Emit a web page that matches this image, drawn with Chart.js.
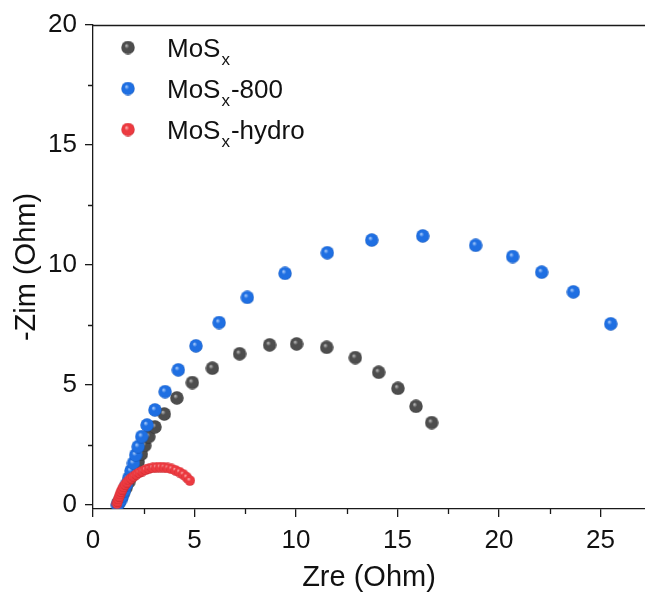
<!DOCTYPE html>
<html>
<head>
<meta charset="utf-8">
<script src="https://cdn.jsdelivr.net/npm/chart.js@4/dist/chart.umd.min.js"></script>
<style>
  html, body { margin: 0; padding: 0; background: #ffffff; overflow: hidden; }
  #wrap { width: 645px; height: 603px; overflow: hidden; }
</style>
</head>
<body>
<div id="wrap"><canvas id="chart" width="650" height="603"></canvas></div>
<script>
// Nyquist data: Zre (Ohm) vs -Zim (Ohm)
const mosxZre = [1.22, 1.30, 1.40, 1.50, 1.62, 1.76, 1.90, 2.06, 2.22, 2.38, 2.55, 2.75, 3.05, 3.51, 4.13, 4.89, 5.88, 7.22, 8.70, 10.03, 11.51, 12.92, 14.07, 15.02, 15.91, 16.68];
const mosxZim = [0.05, 0.16, 0.32, 0.50, 0.72, 0.96, 1.22, 1.50, 1.80, 2.12, 2.48, 2.85, 3.25, 3.79, 4.46, 5.10, 5.70, 6.30, 6.67, 6.71, 6.57, 6.14, 5.53, 4.86, 4.11, 3.43];

const mos800Zre = [1.20, 1.27, 1.36, 1.45, 1.55, 1.65, 1.76, 1.87, 1.99, 2.10, 2.22, 2.40, 2.66, 3.05, 3.55, 4.20, 5.07, 6.21, 7.60, 9.46, 11.54, 13.73, 16.24, 18.85, 20.67, 22.10, 23.66, 25.50];
const mos800Zim = [0.00, 0.07, 0.20, 0.38, 0.60, 0.85, 1.12, 1.42, 1.74, 2.08, 2.43, 2.85, 3.33, 3.96, 4.72, 5.63, 6.63, 7.60, 8.65, 9.65, 10.51, 11.04, 11.21, 10.82, 10.35, 9.70, 8.88, 7.55];

const hydroZre = [1.18, 1.21, 1.25, 1.29, 1.33, 1.38, 1.44, 1.51, 1.59, 1.68, 1.78, 1.89, 2.01, 2.14, 2.28, 2.43, 2.59, 2.76, 2.94, 3.12, 3.31, 3.50, 3.69, 3.88, 4.07, 4.26, 4.44, 4.61, 4.77];
const hydroZim = [0.05, 0.15, 0.25, 0.36, 0.46, 0.56, 0.66, 0.76, 0.86, 0.95, 1.04, 1.12, 1.20, 1.28, 1.35, 1.41, 1.47, 1.52, 1.55, 1.57, 1.58, 1.57, 1.54, 1.50, 1.44, 1.37, 1.28, 1.16, 1.02];

const xMajorTicks = [0, 5, 10, 15, 20, 25];
const xMinorTicks = [2.5, 7.5, 12.5, 17.5, 22.5];
const yMajorTicks = [0, 5, 10, 15, 20];
const yMinorTicks = [2.5, 7.5, 12.5, 17.5];

const seriesNames = ['MoSx', 'MoSx-800', 'MoSx-hydro'];

const FONT = "'Liberation Sans', Arial, Helvetica, sans-serif";
const INK = '#1a1a1a';

// shaded ball used as point marker
function makeBall(d, base, edge, light) {
  const c = document.createElement('canvas');
  c.width = d; c.height = d;
  const g = c.getContext('2d');
  const r = d / 2;
  const grad = g.createRadialGradient(r * 0.75, r * 0.7, 0, r, r, r);
  grad.addColorStop(0, light);
  grad.addColorStop(0.35, base);
  grad.addColorStop(0.85, base);
  grad.addColorStop(1, edge);
  g.fillStyle = grad;
  g.beginPath();
  g.arc(r, r, r - 0.3, 0, Math.PI * 2);
  g.fill();
  return c;
}

const ballBlack = makeBall(14, '#4d4d4d', '#2a2a2a', '#c8c8c8');
const ballBlue = makeBall(14, '#1f6fe2', '#0f4fb0', '#b8d6ff');
const ballRed = makeBall(11, '#ec3a40', '#b82027', '#ffc0c0');
const legendBalls = [ballBlack, ballBlue, makeBall(14, '#ec3a40', '#b82027', '#ffc0c0')];

function pairs(xs, ys) { return xs.map((v, i) => ({ x: v, y: ys[i] })); }

const decorations = {
  id: 'decorations',
  afterDraw(chart) {
    const { ctx, chartArea: a, scales: { x, y } } = chart;
    ctx.save();
    ctx.strokeStyle = INK;
    ctx.lineWidth = 1.3;
    // top frame line
    ctx.beginPath();
    ctx.moveTo(a.left, a.top + 0.5);
    ctx.lineTo(a.right, a.top + 0.5);
    ctx.stroke();
    // minor ticks
    ctx.beginPath();
    xMinorTicks.forEach(v => {
      const px = Math.round(x.getPixelForValue(v)) + 0.5;
      ctx.moveTo(px, a.bottom);
      ctx.lineTo(px, a.bottom + 5);
    });
    yMinorTicks.forEach(v => {
      const py = Math.round(y.getPixelForValue(v)) + 0.5;
      ctx.moveTo(a.left, py);
      ctx.lineTo(a.left - 5, py);
    });
    ctx.stroke();

    // legend with subscript x
    const rows = [56.5, 97.5, 138.5];
    seriesNames.forEach((name, i) => {
      const img = legendBalls[i];
      ctx.drawImage(img, 128 - img.width / 2, rows[i] - 9 - img.height / 2);
      const head = name.slice(0, 3);
      const sub = name.slice(3, 4);
      const tail = name.slice(4);
      let tx = 167;
      ctx.fillStyle = '#111';
      ctx.textBaseline = 'alphabetic';
      ctx.textAlign = 'left';
      ctx.font = '26px ' + FONT;
      ctx.fillText(head, tx, rows[i]);
      tx += ctx.measureText(head).width + 1;
      ctx.font = '17px ' + FONT;
      ctx.fillText(sub, tx, rows[i] + 8);
      tx += ctx.measureText(sub).width + 1;
      ctx.font = '26px ' + FONT;
      ctx.fillText(tail, tx, rows[i]);
    });
    ctx.restore();
  }
};

new Chart(document.getElementById('chart'), {
  type: 'scatter',
  data: {
    datasets: [
      { label: seriesNames[0], data: pairs(mosxZre, mosxZim), pointStyle: ballBlack, order: 3 },
      { label: seriesNames[1], data: pairs(mos800Zre, mos800Zim), pointStyle: ballBlue, order: 2 },
      { label: seriesNames[2], data: pairs(hydroZre, hydroZim), pointStyle: ballRed, order: 1 }
    ]
  },
  options: {
    responsive: false,
    animation: false,
    devicePixelRatio: 1,
    layout: { padding: { top: 25, left: 0, right: 0, bottom: 0 } },
    plugins: {
      legend: { display: false },
      tooltip: { enabled: false }
    },
    scales: {
      x: {
        type: 'linear',
        min: 0,
        max: 27.19,
        afterBuildTicks(s) { s.ticks = xMajorTicks.map(v => ({ value: v })); },
        afterFit(s) { s.height = 94; s.paddingLeft = 0; s.paddingRight = 0; },
        grid: { display: true, drawOnChartArea: false, drawTicks: true, tickLength: 8, color: INK, lineWidth: 1.3 },
        border: { display: true, color: INK, width: 1.3 },
        ticks: { color: '#111', font: { family: FONT, size: 26 }, padding: 8, maxRotation: 0, autoSkip: false },
        title: { display: true, text: 'Zre (Ohm)', color: '#111', font: { family: FONT, size: 29 }, padding: { top: 0, bottom: 8 } }
      },
      y: {
        type: 'linear',
        min: -0.17,
        max: 20,
        afterBuildTicks(s) { s.ticks = yMajorTicks.map(v => ({ value: v })); },
        afterFit(s) { s.width = 93; s.paddingTop = 0; s.paddingBottom = 0; },
        grid: { display: true, drawOnChartArea: false, drawTicks: true, tickLength: 8, color: INK, lineWidth: 1.3 },
        border: { display: true, color: INK, width: 1.3 },
        ticks: { color: '#111', font: { family: FONT, size: 26 }, padding: 8, autoSkip: false },
        title: { display: true, text: '-Zim (Ohm)', color: '#111', font: { family: FONT, size: 29 }, padding: { top: 10, bottom: 0 } }
      }
    }
  },
  plugins: [decorations]
});
</script>
</body>
</html>
